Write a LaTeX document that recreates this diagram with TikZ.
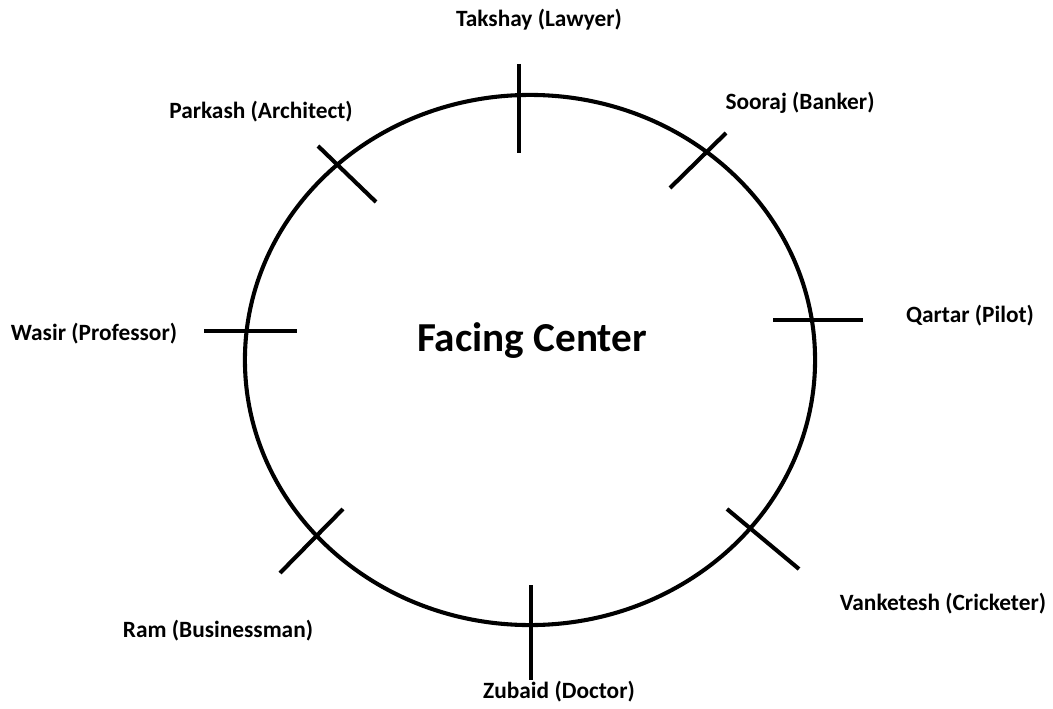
\documentclass[tikz,border=0pt]{standalone}
\usepackage{fontspec}
\setmainfont{Carlito}
\usepackage{tikz}
\usetikzlibrary{shapes,positioning}
\tikzstyle{seatmark}=[line width=2.9pt]
\tikzstyle{person}  =[font=\bfseries\fontsize{16.6}{19}\selectfont,
                      inner sep=0pt, outer sep=0pt]

\begin{document}
\begin{tikzpicture}[x=0.025cm,y=-0.025cm]
\useasboundingbox (0,0) rectangle (1053,709);
%%%%%%%%%%%%%%%%%%%%%%%%%%%%%%%%%%%%%%%%%%%%%%%%
%%%%%%%%%%           Table            %%%%%%%%%%
%%%%%%%%%%%%%%%%%%%%%%%%%%%%%%%%%%%%%%%%%%%%%%%%
\node (table) [ellipse, draw, line width=2.9pt, minimum width=14.25cm,
               minimum height=13.25cm] at (530,360){};
\node (centre) [font=\bfseries\fontsize{29.3}{34}\selectfont, inner sep=0pt]
      at (532,341){Facing Center};

%%%%%%%%%%%%%%%%%%%%%%%%%%%%%%%%%%%%%%%%%%%%%%%%
%%%%%%%%%%           Seats            %%%%%%%%%%
%%%%%%%%%%%%%%%%%%%%%%%%%%%%%%%%%%%%%%%%%%%%%%%%
\foreach \s/\xa/\ya/\xb/\yb in {lawyer/519/64/519/153, banker/670/188/726/133,
        pilot/773/320/863/320, cricketer/727/509/799/569,
        doctor/531/585/531/680, business/280/573/343/509,
        professor/204/331/297/331, architect/318/146/376/202}
{
	\coordinate (\s-a) at (\xa,\ya);
	\coordinate (\s-b) at (\xb,\yb);
	\draw [seatmark] (\s-a) -- (\s-b);
}

%%%%%%%%%%%%%%%%%%%%%%%%%%%%%%%%%%%%%%%%%%%%%%%%
%%%%%%%%%%           Names            %%%%%%%%%%
%%%%%%%%%%%%%%%%%%%%%%%%%%%%%%%%%%%%%%%%%%%%%%%%
\node (lawyer)    [person] at (539,20) {Takshay (Lawyer)};
\node (banker)    [person] at (800,103){Sooraj (Banker)};
\node (pilot)     [person] at (970,316){Qartar (Pilot)};
\node (cricketer) [person] at (943,604){Vanketesh (Cricketer)};
\node (doctor)    [person] at (559,692){Zubaid (Doctor)};
\node (business)  [person] at (218,631){Ram (Businessman)};
\node (professor) [person] at (94,334) {Wasir (Professor)};
\node (architect) [person] at (261,112){Parkash (Architect)};

\end{tikzpicture}
\end{document}
